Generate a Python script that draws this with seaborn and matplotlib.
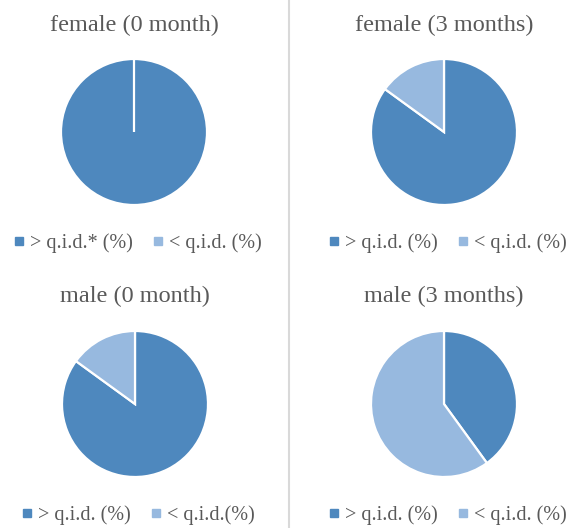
import matplotlib
matplotlib.use("Agg")
import matplotlib.pyplot as plt
from matplotlib.lines import Line2D
import seaborn as sns

sns.set_theme(style="white")
plt.rcParams["font.family"] = ["Liberation Serif", "DejaVu Serif"]

# Share of patients dosing above / below q.i.d., by sex and follow-up time
panel_titles = ["female (0 month)", "female (3 months)", "male (0 month)", "male (3 months)"]
above_qid = [100, 85, 85, 40]
below_qid = [0, 15, 15, 60]
legend_above = ["> q.i.d.* (%)", "> q.i.d. (%)", "> q.i.d. (%)", "> q.i.d. (%)"]
legend_below = ["< q.i.d. (%)", "< q.i.d. (%)", "< q.i.d.(%)", "< q.i.d. (%)"]

colors = ["#4E88BE", "#97B9DF"]
text_color = "#595959"

W, H = 578, 528
fig = plt.figure(figsize=(W / 100, H / 100), dpi=100)
fig.patch.set_facecolor("white")

# pixel layout (x from left, y from top)
centers = [(134, 132), (444, 132), (135, 404), (444, 404)]
radius = 73
title_baselines = [31, 31, 302, 302]
legend_centers = [(138, 243), (448, 243), (138, 515), (448, 515)]

for i in range(4):
    cx, cy = centers[i]
    ax = fig.add_axes([(cx - radius) / W, (H - cy - radius) / H, 2 * radius / W, 2 * radius / H])
    ax.pie([above_qid[i], below_qid[i]], colors=colors, startangle=90, counterclock=False,
           wedgeprops=dict(edgecolor="white", linewidth=1.6))
    ax.set_xlim(-1, 1)
    ax.set_ylim(-1, 1)
    ax.axis("off")

    fig.text(cx / W, 1 - title_baselines[i] / H, panel_titles[i], ha="center", va="baseline",
             fontsize=17.5, color=text_color)

    handles = [Line2D([], [], marker="s", linestyle="", color=c, markersize=5.2) for c in colors]
    lx, ly = legend_centers[i]
    fig.legend(handles, [legend_above[i], legend_below[i]], loc="center",
               bbox_to_anchor=(lx / W, 1 - ly / H), ncol=2, frameon=False,
               fontsize=14.5, labelcolor=text_color, handlelength=0.5, handletextpad=0.3,
               columnspacing=1.0, borderpad=0, borderaxespad=0)

# divider between the two columns
fig.add_artist(Line2D([288.5 / W, 288.5 / W], [0, 1], color="#D9D9D9", linewidth=1.5))

fig.savefig("out.png", dpi=100, facecolor="white")
